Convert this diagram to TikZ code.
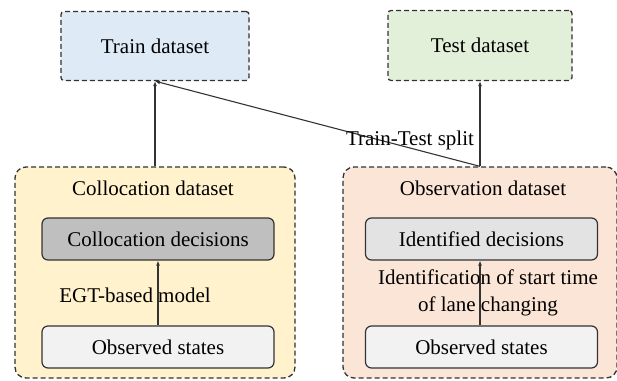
\documentclass[tikz,border=0pt]{standalone}
\usepackage{fontspec}
\setmainfont{Liberation Serif}
\usetikzlibrary{arrows.meta}
\definecolor{trainblue}{HTML}{DEEBF7}
\definecolor{testgreen}{HTML}{E2F0D9}
\definecolor{collyellow}{HTML}{FFF2CC}
\definecolor{obspeach}{HTML}{FBE5D6}
\definecolor{decgray}{HTML}{BFBFBF}
\definecolor{stategray}{HTML}{F2F2F2}
\definecolor{edge}{HTML}{333333}
\tikzset{
  setbox/.style={draw=edge,line width=1.3pt,dash pattern=on 5pt off 3pt,rounded corners=3pt},
  groupbox/.style={draw=edge,line width=1.3pt,dash pattern=on 5pt off 3pt,rounded corners=11pt},
  stepbox/.style={draw=edge,line width=1.2pt,rounded corners=6pt,minimum width=232pt,minimum height=42pt},
  flow/.style={draw=edge,line width=1.1pt,-{Latex[length=5pt,width=4pt]}}
}

\begin{document}
\begin{tikzpicture}[x=1pt,y=-1pt,font=\fontsize{21}{25}\selectfont]
\useasboundingbox(0,0)rectangle(617,380);
% dataset groups
\node[groupbox,fill=collyellow,minimum width=280pt,minimum height=211pt](coll)at(155,272.5){};
\node[groupbox,fill=obspeach,minimum width=274pt,minimum height=211pt](obs)at(480,272.5){};
\node(colltitle)at(153,188){Collocation dataset};\node(obstitle)at(483,188){Observation dataset};
% train / test sets
\node[setbox,fill=trainblue,minimum width=188pt,minimum height=69pt](train)at(155,46){Train dataset};
\node[setbox,fill=testgreen,minimum width=184pt,minimum height=70pt](test)at(480,45.5){Test dataset};
% inner steps
\node[stepbox,fill=decgray](colldec)at(158,239){Collocation decisions};\node[stepbox,fill=stategray](collstate)at(158,347){Observed states};
\node[stepbox,fill=stategray!70!decgray](iddec)at(481.5,239){Identified decisions};\node[stepbox,fill=stategray](idstate)at(481.5,347){Observed states};
\draw[flow](collstate)--(colldec);\draw[flow](idstate.north-|obs.north)--(iddec.south-|obs.north);
\node(egt)at(135,295){EGT-based model};
\node[align=center,font=\fontsize{21}{27}\selectfont](ident)at(488,293){Identification of start time\\of lane changing};
% connectors between sets
\draw[flow](coll)--(train);\draw[flow](obs)--(test);\draw[flow](obs.north)--(train.south);
\node(split)at(410,140){Train-Test split};
\end{tikzpicture}
\end{document}
